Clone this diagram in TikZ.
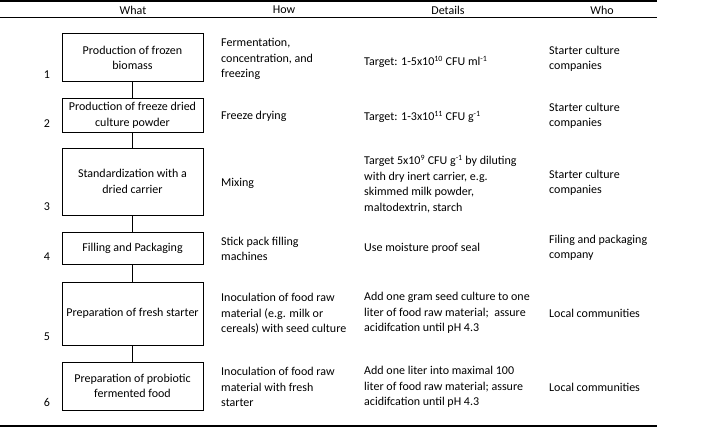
\documentclass[tikz,border=0pt]{standalone}
\usepackage{fontspec}
\setmainfont{Carlito}
\begin{document}
\begin{tikzpicture}[x=1pt,y=-1pt,font=\fontsize{12}{15.5}\selectfont,
  stepbox/.style={draw,line width=1pt,minimum width=141pt,align=center,inner sep=0pt},
  cell/.style={anchor=west,align=left,inner sep=0pt},
  num/.style={inner sep=0pt},
  head/.style={inner sep=0pt},
  rulethick/.style={line width=1.3pt},
  rulethin/.style={line width=1pt},
  link/.style={line width=1pt}]
\useasboundingbox (0,0) rectangle (710,428);
% rules
\coordinate (tl) at (0,1); \coordinate (tr) at (657,1);
\coordinate (hl) at (0,17.5); \coordinate (hr) at (657,17.5);
\coordinate (bl) at (0,426); \coordinate (br) at (657,426);
\draw[rulethick] (tl) -- (tr);
\draw[rulethin] (hl) -- (hr);
\draw[rulethick] (bl) -- (br);
% headers
\node[head] (hWhat) at (133,10) {What};
\node[head] (hHow) at (284,10) {How};
\node[head] (hDet) at (448,10) {Details};
\node[head] (hWho) at (602,10) {Who};
% boxes
\node[stepbox,minimum height=48pt] (b1) at (132.5,58) {Production of frozen\\biomass};
\node[stepbox,minimum height=33pt] (b2) at (132.5,115.5) {Production of freeze dried\\culture powder};
\node[stepbox,minimum height=67pt] (b3) at (132.5,181.5) {Standardization with a\\dried carrier};
\node[stepbox,minimum height=32pt] (b4) at (132.5,248) {Filling and Packaging};
\node[stepbox,minimum height=63pt] (b5) at (132.5,313.5) {Preparation of fresh starter};
\node[stepbox,minimum height=48pt] (b6) at (132.5,386) {Preparation of probiotic\\fermented food};
\draw[link] (b1) -- (b2);
\draw[link] (b2) -- (b3);
\draw[link] (b3) -- (b4);
\draw[link] (b4) -- (b5);
\draw[link] (b5) -- (b6);
% numbers
\node[num] (n1) at (47,75) {1};
\node[num] (n2) at (47,124) {2};
\node[num] (n3) at (47,207) {3};
\node[num] (n4) at (47,257) {4};
\node[num] (n5) at (47,337) {5};
\node[num] (n6) at (47,402) {6};
% How
\node[cell] (h1) at (221,59) {Fermentation,\\concentration, and\\freezing};
\node[cell] (h2) at (221,116) {Freeze drying};
\node[cell] (h3) at (221,183) {Mixing};
\node[cell] (h4) at (221,249) {Stick pack filling\\machines};
\node[cell] (h5) at (221,314) {Inoculation of food raw\\material (e.g. milk or\\cereals) with seed culture};
\node[cell] (h6) at (221,387) {Inoculation of food raw\\material with fresh\\starter};
% Details
\node[cell] (d1) at (364,62) {Target: 1-5x10\textsuperscript{10} CFU ml\textsuperscript{-1}};
\node[cell] (d2) at (364,117) {Target: 1-3x10\textsuperscript{11} CFU g\textsuperscript{-1}};
\node[cell] (d3) at (364,184) {Target 5x10\textsuperscript{9} CFU g\textsuperscript{-1} by diluting\\with dry inert carrier, e.g.\\skimmed milk powder,\\maltodextrin, starch};
\node[cell] (d4) at (364,248) {Use moisture proof seal};
\node[cell] (d5) at (364,313) {Add one gram seed culture to one\\liter of food raw material;\ \ assure\\acidifcation until pH 4.3};
\node[cell] (d6) at (364,387) {Add one liter into maximal 100\\liter of food raw material; assure\\acidifcation until pH 4.3};
% Who
\node[cell] (w1) at (549,59) {Starter culture\\companies};
\node[cell] (w2) at (549,116) {Starter culture\\companies};
\node[cell] (w3) at (549,183) {Starter culture\\companies};
\node[cell] (w4) at (549,248) {Filing and packaging\\company};
\node[cell] (w5) at (549,313) {Local communities};
\node[cell] (w6) at (549,387) {Local communities};
\end{tikzpicture}
\end{document}
